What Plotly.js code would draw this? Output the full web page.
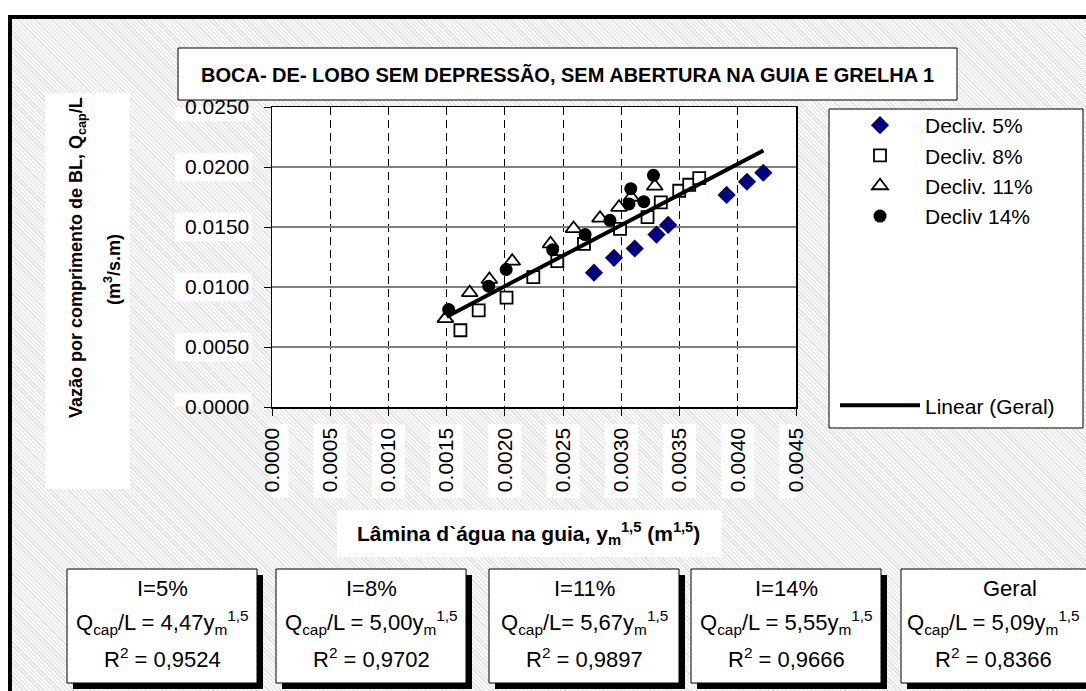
<!DOCTYPE html>
<html>
<head>
<meta charset="utf-8">
<script src="https://cdn.plot.ly/plotly-3.0.1.min.js"></script>
<style>
  html, body { margin: 0; padding: 0; background: #ffffff; }
  #wrap { position: relative; width: 1086px; height: 691px; overflow: hidden; background: #ffffff; }
  #hatch { position: absolute; left: 10px; top: 17px; right: 0; bottom: 0;
    background: repeating-linear-gradient(45deg, #e2e2e2 0px, #e2e2e2 1px, #f7f7f7 1px, #f7f7f7 3px); }
  #chart { position: absolute; left: 0; top: 0; width: 1086px; height: 691px; }
</style>
</head>
<body>
<div id="wrap"><div id="hatch"></div><div id="chart"></div></div>
<script>
// ---------------- data ----------------
const seriesNames = ['Decliv. 5%', 'Decliv. 8%', 'Decliv. 11%', 'Decliv 14%', 'Linear (Geral)'];

const x5  = [0.002765, 0.002937, 0.003115, 0.003302, 0.003402, 0.003904, 0.004079, 0.004219];
const y5  = [0.01119, 0.01243, 0.01321, 0.01437, 0.01517, 0.01767, 0.01877, 0.01952];

const x8  = [0.001618, 0.001775, 0.002014, 0.002244, 0.002450, 0.002679, 0.002989, 0.003225, 0.003339, 0.003497, 0.003583, 0.003669];
const y8  = [0.006395, 0.008056, 0.009111, 0.01082, 0.01215, 0.01360, 0.01484, 0.01582, 0.01705, 0.01802, 0.01852, 0.01908];

const x11 = [0.001489, 0.001698, 0.001867, 0.002063, 0.002392, 0.002590, 0.002817, 0.002980, 0.003085, 0.003287];
const y11 = [0.007367, 0.009527, 0.01063, 0.01215, 0.01360, 0.01487, 0.01574, 0.01664, 0.01748, 0.01840];

const x14 = [0.001517, 0.001861, 0.002011, 0.002410, 0.002689, 0.002902, 0.003066, 0.003081, 0.003193, 0.003276];
const y14 = [0.008115, 0.01007, 0.01146, 0.01310, 0.01437, 0.01556, 0.01692, 0.01819, 0.01711, 0.01931];

// general linear trend line end points
const xGeral = [0.00150, 0.00422];
const yGeral = [0.00752, 0.02138];

const xTicks = [0.0000, 0.0005, 0.0010, 0.0015, 0.0020, 0.0025, 0.0030, 0.0035, 0.0040, 0.0045];
const yTicks = [0.0000, 0.0050, 0.0100, 0.0150, 0.0200, 0.0250];

const boxLabels = ['I=5%', 'I=8%', 'I=11%', 'I=14%', 'Geral'];
const boxCoefs  = ['4,47', '5,00', '5,67', '5,55', '5,09'];
const boxEq     = [' = ', ' = ', '= ', ' = ', ' = '];
const boxR2     = ['0,9524', '0,9702', '0,9897', '0,9666', '0,8366'];

const titleText = 'BOCA- DE- LOBO SEM DEPRESSÃO, SEM ABERTURA NA GUIA E GRELHA 1';
const xTitle = 'Lâmina d`água na guia, y<sub>m</sub><sup>1,5</sup> (m<sup>1,5</sup>)';
const yTitle1 = 'Vazão por comprimento de BL, Q<sub>cap</sub>/L';
const yTitle2 = '(m<sup>3</sup>/s.m)';

// ---------------- layout helpers (pixel -> paper) ----------------
const L = 272, R = 796, T = 107, B = 407;
const PW = R - L, PH = B - T;
const px = v => (v - L) / PW;
const py = v => (B - v) / PH;

const ARIAL = 'Liberation Sans, Arial, sans-serif';

const shapes = [];
const annotations = [];

function rectPx(x0, y0, x1, y1, fill, lineColor, lineWidth, layer) {
  shapes.push({type: 'rect', xref: 'paper', yref: 'paper',
    x0: px(x0), x1: px(x1), y0: py(y1), y1: py(y0),
    fillcolor: fill, line: {color: lineColor, width: lineWidth}, layer: layer || 'above'});
}

// outer thick frame
rectPx(10, 17, 1100, 705, 'rgba(0,0,0,0)', '#000000', 4, 'below');

// title box
rectPx(178, 48, 957, 100, '#ffffff', '#000000', 1, 'below');
annotations.push({xref: 'paper', yref: 'paper', x: px(567), y: py(75), xanchor: 'center', yanchor: 'middle',
  showarrow: false, text: '<b>' + titleText + '</b>', font: {family: ARIAL, size: 20, color: '#000'}});

// axis title backgrounds
rectPx(45, 93, 130, 489, '#ffffff', 'rgba(0,0,0,0)', 0, 'below');
rectPx(337, 510, 722, 557, '#ffffff', 'rgba(0,0,0,0)', 0, 'below');

// tick label backgrounds
yTicks.forEach(v => shapes.push({type: 'rect', xref: 'paper', yref: 'y', x0: px(175), x1: px(252),
  y0: v - 0.00118, y1: v + 0.00118, fillcolor: '#ffffff', line: {width: 0}, layer: 'below'}));
xTicks.forEach(v => shapes.push({type: 'rect', xref: 'x', yref: 'paper', x0: v - 0.000142, x1: v + 0.000142,
  y0: py(498), y1: py(424), fillcolor: '#ffffff', line: {width: 0}, layer: 'below'}));

// legend frame
rectPx(829, 109, 1083, 428, '#ffffff', '#000000', 1, 'below');

// axis titles
annotations.push({xref: 'paper', yref: 'paper', x: px(528), y: py(533), xanchor: 'center', yanchor: 'middle',
  showarrow: false, text: '<b>' + xTitle + '</b>', font: {family: ARIAL, size: 21, color: '#000'}});
annotations.push({xref: 'paper', yref: 'paper', x: px(77), y: py(258), xanchor: 'center', yanchor: 'middle',
  showarrow: false, textangle: -90, text: '<b>' + yTitle1 + '</b>', font: {family: ARIAL, size: 18, color: '#000'}});
annotations.push({xref: 'paper', yref: 'paper', x: px(112), y: py(270), xanchor: 'center', yanchor: 'middle',
  showarrow: false, textangle: -90, text: '<b>' + yTitle2 + '</b>', font: {family: ARIAL, size: 18, color: '#000'}});

// equation boxes
const boxX0 = [67, 276, 489, 691, 901];
const boxW = 190;
boxLabels.forEach((lab, i) => {
  const x0 = boxX0[i], x1 = i === 4 ? 1120 : x0 + boxW;
  rectPx(x0 + 6, 575, x1 + 6, 689, '#000000', '#000000', 0, 'below');
  rectPx(x0, 569, x1, 683, '#ffffff', '#000000', 1, 'below');
  const cx = i === 4 ? 993 : (x0 + x1) / 2;
  annotations.push({xref: 'paper', yref: 'paper', x: px(i === 4 ? 1010 : cx), y: py(588), xanchor: 'center', yanchor: 'middle',
    showarrow: false, text: lab, font: {family: ARIAL, size: 22, color: '#000'}});
  annotations.push({xref: 'paper', yref: 'paper', x: px(cx), y: py(622), xanchor: 'center', yanchor: 'middle',
    showarrow: false, text: 'Q<sub>cap</sub>/L' + boxEq[i] + boxCoefs[i] + 'y<sub>m</sub><sup>1,5</sup>',
    font: {family: ARIAL, size: 22, color: '#000'}});
  annotations.push({xref: 'paper', yref: 'paper', x: px(cx), y: py(658), xanchor: 'center', yanchor: 'middle',
    showarrow: false, text: 'R<sup>2</sup> = ' + boxR2[i], font: {family: ARIAL, size: 22, color: '#000'}});
});

// ---------------- traces ----------------
const traces = [
  {x: x5, y: y5, name: seriesNames[0], type: 'scatter', mode: 'markers', legendgroup: 'a',
   marker: {symbol: 'diamond', size: 14, color: '#000080', line: {width: 0}}},
  {x: x8, y: y8, name: seriesNames[1], type: 'scatter', mode: 'markers', legendgroup: 'a',
   marker: {symbol: 'square', size: 12, color: '#ffffff', line: {width: 1.8, color: '#000000'}}},
  {x: x11, y: y11, name: seriesNames[2], type: 'scatter', mode: 'markers', legendgroup: 'a',
   marker: {symbol: 'triangle-up', size: 14, color: '#ffffff', line: {width: 1.8, color: '#000000'}}},
  {x: x14, y: y14, name: seriesNames[3], type: 'scatter', mode: 'markers', legendgroup: 'a',
   marker: {symbol: 'circle', size: 13, color: '#000000', line: {width: 0}}},
  {x: xGeral, y: yGeral, name: seriesNames[4], type: 'scatter', mode: 'lines', legendgroup: 'b',
   line: {color: '#000000', width: 4}}
];

const layout = {
  width: 1086, height: 691, autosize: false,
  margin: {l: L, r: 1086 - R, t: T, b: 691 - B, pad: 0},
  paper_bgcolor: 'rgba(0,0,0,0)',
  plot_bgcolor: '#ffffff',
  font: {family: ARIAL, size: 21, color: '#000000'},
  showlegend: true,
  legend: {x: px(835), y: py(105), xanchor: 'left', yanchor: 'top',
    bgcolor: 'rgba(0,0,0,0)', borderwidth: 0, itemwidth: 80, maxheight: 500,
    traceorder: 'grouped', tracegroupgap: 159,
    font: {family: ARIAL, size: 21, color: '#000'}},
  xaxis: {range: [0, 0.0045], tickvals: xTicks, tickformat: '.4f', tickangle: -90,
    ticks: 'outside', ticklen: 7, tickcolor: '#000', tickwidth: 1,
    ticklabelstandoff: 4,
    showline: true, linecolor: '#000', linewidth: 1.5, mirror: true,
    showgrid: true, gridcolor: '#000000', gridwidth: 1, griddash: '8px,5px',
    zeroline: false, tickfont: {family: ARIAL, size: 21, color: '#000'}},
  yaxis: {range: [0, 0.025], tickvals: yTicks, tickformat: '.4f',
    ticks: 'outside', ticklen: 7, tickcolor: '#000', tickwidth: 1,
    ticklabelstandoff: 10,
    showline: true, linecolor: '#000', linewidth: 1.5, mirror: true,
    showgrid: true, gridcolor: '#808080', gridwidth: 1.2,
    zeroline: false, tickfont: {family: ARIAL, size: 21, color: '#000'}},
  shapes: shapes,
  annotations: annotations
};

Plotly.newPlot('chart', traces, layout, {displayModeBar: false, staticPlot: true});
</script>
</body>
</html>
